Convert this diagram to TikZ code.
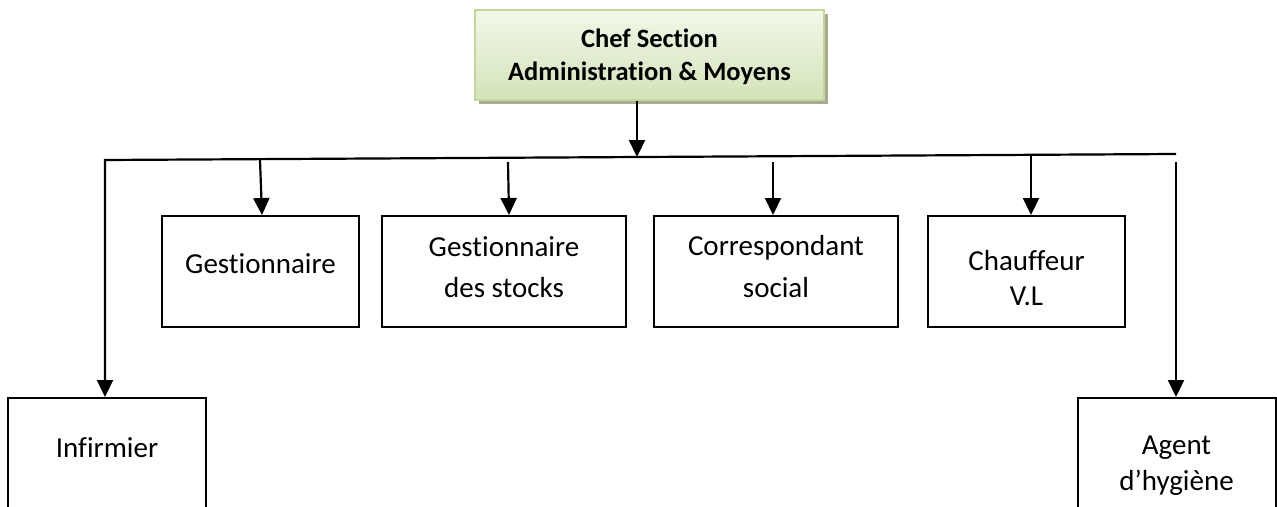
\documentclass[tikz,border=0pt]{standalone}
\usepackage{fontspec}
\setmainfont{Carlito}[Ligatures=NoCommon]
\usetikzlibrary{arrows.meta,shadows}
\definecolor{chefTop}{HTML}{F2F8E9}
\definecolor{chefBot}{HTML}{D3E3B9}
\definecolor{chefBorder}{HTML}{C3D69B}
\definecolor{chefShadow}{HTML}{A7AB90}
\newcommand\mylines[1]{\begin{tabular}[t]{@{}c@{}}#1\end{tabular}}
\begin{document}
\begin{tikzpicture}[x=1pt,y=-1pt,
  conn/.style={line width=2.2pt,-{Triangle[length=17pt,width=16pt]}},
  unit/.style={draw,line width=2pt,inner sep=0pt,text height=0pt},
  narrow/.style={unit,minimum width=197pt,minimum height=111pt},
  wide/.style={unit,minimum width=244pt,minimum height=111pt},
  low/.style={unit,minimum width=198pt,minimum height=160pt},
  chefbox/.style={draw=chefBorder,line width=2.5pt,top color=chefTop,bottom color=chefBot,
    minimum width=349pt,minimum height=90pt,inner sep=0pt,text height=0pt,
    drop shadow={shadow xshift=3.5pt,shadow yshift=-4pt,fill=chefShadow,opacity=1},
    font=\fontsize{26.5}{33}\selectfont\bfseries}]
\clip (0,0) rectangle (1277,506);

\node[chefbox,text depth=16pt] (chef) at (649.5,55) {\mylines{Chef Section\\Administration \& Moyens}};

\node[narrow,text depth=0pt,text height=3pt,font=\fontsize{29}{41}\selectfont] (gest) at (260.5,271.5) {\mylines{Gestionnaire}};
\node[wide,text depth=31pt,font=\fontsize{29}{41}\selectfont] (stock) at (504,271.5) {\mylines{Gestionnaire\\des stocks}};
\node[wide,text depth=33pt,font=\fontsize{29}{42}\selectfont] (corr) at (776,271.5) {\mylines{Correspondant\\social}};
\node[narrow,text depth=3pt,font=\fontsize{29}{35}\selectfont] (chauf) at (1026.5,271.5) {\mylines{Chauffeur\\V.L}};
\node[low,text depth=42pt,font=\fontsize{29}{41}\selectfont] (inf) at (107,478) {\mylines{Infirmier}};
\node[low,text depth=48pt,font=\fontsize{29}{36}\selectfont] (agent) at (1176.5,478) {\mylines{Agent\\d’hygiène}};

\coordinate (busL) at (105,160);
\coordinate (busR) at (1176,154);
\coordinate (jTop) at (637,157);
\coordinate (j1) at (260,160);
\coordinate (j2) at (508,162);
\coordinate (j3) at (773,162);
\coordinate (j4) at (1031,155);
\coordinate (j5) at (1176,162);

\draw[conn] (busR) -- (busL) -- (busL |- inf.north);
\draw[conn] ([xshift=-12.5pt]chef.south) -- (jTop);
\draw[conn] (j1) -- ([xshift=1.5pt]gest.north);
\draw[conn] (j2) -- ([xshift=5pt]stock.north);
\draw[conn] (j3) -- ([xshift=-3pt]corr.north);
\draw[conn] (j4) -- ([xshift=4.5pt]chauf.north);
\draw[conn] (j5) -- (j5 |- agent.north);
\end{tikzpicture}
\end{document}
